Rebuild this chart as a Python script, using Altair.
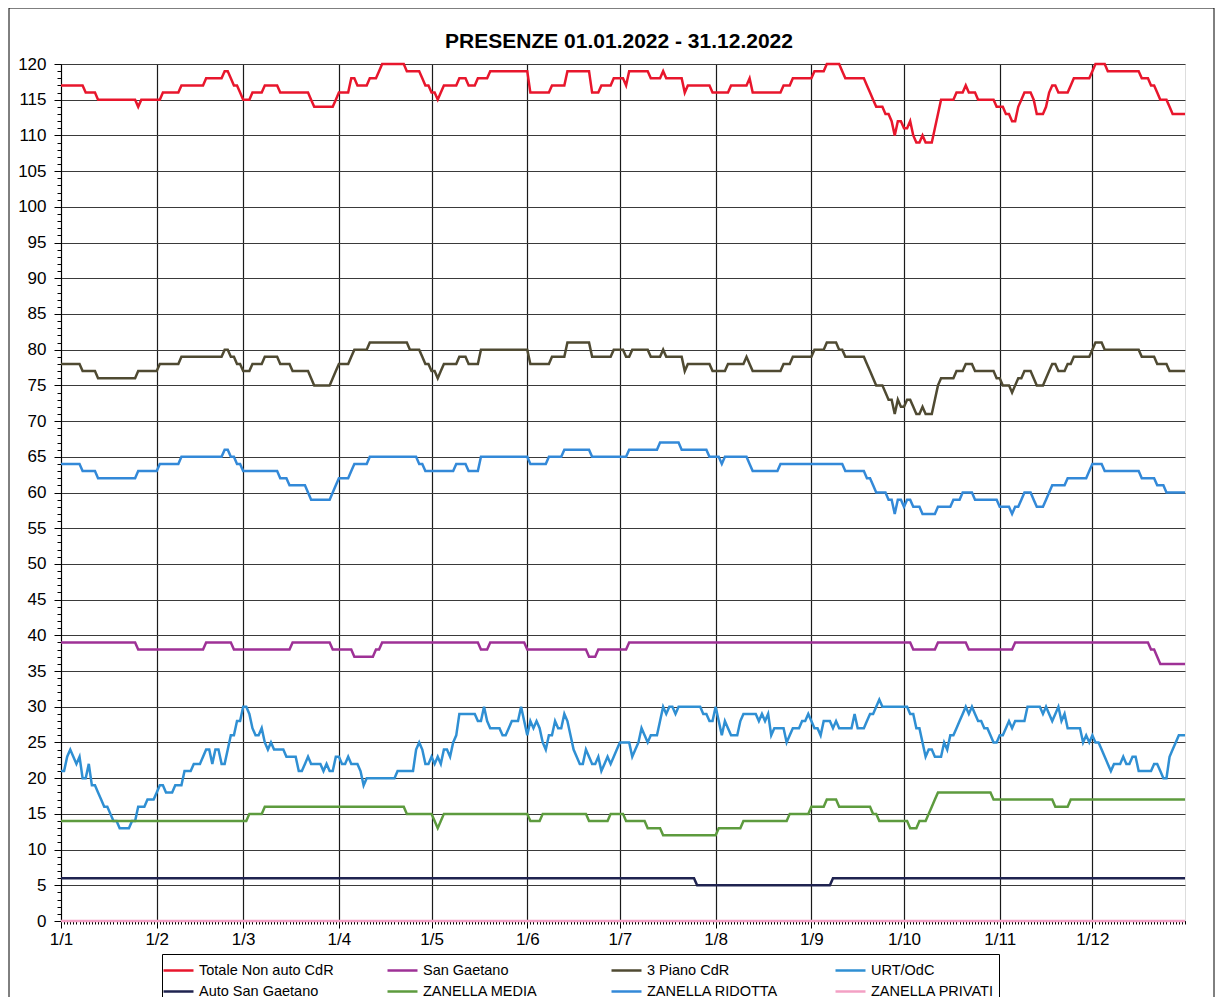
import altair as alt
import pandas as pd

# ---------------- data ----------------
N_DAYS = 365
MONTH_START = [0, 31, 59, 90, 120, 151, 181, 212, 243, 273, 304, 334]
MONTH_LABELS = ["1/1", "1/2", "1/3", "1/4", "1/5", "1/6", "1/7", "1/8", "1/9", "1/10", "1/11", "1/12"]
Y_MAX = 120
TITLE = "PRESENZE 01.01.2022 - 31.12.2022"

SERIES = ["Totale Non auto CdR", "San Gaetano", "3 Piano CdR", "URT/OdC",
          "Auto San Gaetano", "ZANELLA MEDIA", "ZANELLA RIDOTTA", "ZANELLA PRIVATI"]
COLORS = ["#e8162c", "#9e3196", "#4f4a32", "#2f8fd3",
          "#1f2350", "#5d9b3e", "#3389d8", "#f3a0c4"]

# (day of year starting at 0, value from that day on)
TOTALE = [(0, 117), (8, 116), (12, 115), (25, 114), (26, 115), (33, 116), (39, 117), (47, 118),
          (53, 119), (55, 118), (56, 117), (58, 116), (59, 115), (62, 116), (66, 117), (71, 116),
          (81, 115), (82, 114), (89, 115), (90, 116), (94, 118), (96, 117), (100, 118), (103, 119),
          (104, 120), (112, 119), (117, 118), (118, 117), (120, 116), (122, 115), (123, 116),
          (124, 117), (129, 118), (132, 117), (135, 118), (139, 119), (152, 116), (159, 117),
          (164, 119), (172, 116), (175, 117), (179, 118), (183, 117), (184, 119), (191, 118),
          (195, 119), (196, 118), (202, 116), (203, 117), (211, 116), (217, 117), (223, 118),
          (224, 116), (234, 117), (237, 118), (244, 119), (248, 120), (253, 119), (254, 118),
          (261, 117), (262, 116), (263, 115), (264, 114), (267, 113), (269, 112), (270, 110),
          (271, 112), (273, 111), (275, 112), (276, 110), (277, 109), (279, 110), (280, 109),
          (283, 111), (284, 113), (285, 115), (290, 116), (293, 117), (294, 116), (297, 115),
          (303, 114), (306, 113), (308, 112), (310, 114), (311, 115), (312, 116), (315, 115),
          (316, 113), (319, 114), (320, 116), (321, 117), (323, 116), (327, 117), (328, 118),
          (334, 119), (335, 120), (339, 119), (350, 118), (353, 117), (355, 116), (356, 115),
          (359, 114), (360, 113)]

SAN_GAETANO = [(0, 39), (25, 38), (47, 39), (56, 38), (75, 39), (88, 38), (95, 37), (102, 38),
               (104, 39), (136, 38), (139, 39), (151, 38), (171, 37), (174, 38), (184, 39),
               (276, 38), (284, 39), (294, 38), (309, 39), (353, 38), (355, 37), (356, 36)]

PIANO_3 = [(0, 78), (7, 77), (12, 76), (25, 77), (32, 78), (39, 79), (53, 80), (55, 79), (57, 78),
           (59, 77), (62, 78), (66, 79), (71, 78), (75, 77), (81, 76), (82, 75), (88, 76), (89, 77),
           (90, 78), (94, 79), (95, 80), (100, 81), (113, 80), (117, 79), (118, 78), (120, 77),
           (122, 76), (123, 77), (124, 78), (129, 79), (132, 78), (136, 80), (152, 78), (159, 79),
           (164, 81), (172, 79), (179, 80), (183, 79), (185, 80), (191, 79), (195, 80), (196, 79),
           (202, 77), (203, 78), (211, 77), (216, 78), (222, 79), (223, 78), (224, 77), (234, 78),
           (237, 79), (244, 80), (248, 81), (252, 80), (254, 79), (261, 78), (262, 77), (263, 76),
           (264, 75), (267, 74), (268, 73), (270, 71), (271, 73), (272, 72), (274, 73), (276, 72),
           (277, 71), (279, 72), (280, 71), (283, 73), (284, 75), (285, 76), (290, 77), (293, 78),
           (296, 77), (303, 76), (305, 75), (308, 74), (309, 75), (310, 76), (312, 77), (315, 76),
           (316, 75), (319, 76), (320, 77), (321, 78), (323, 77), (326, 78), (328, 79), (334, 80),
           (335, 81), (338, 80), (350, 79), (355, 78), (359, 77)]

URT_ODC = [(0, 21), (2, 23), (3, 24), (4, 23), (5, 22), (6, 23), (7, 20), (9, 22), (10, 19),
           (12, 18), (13, 17), (14, 16), (16, 15), (17, 14), (19, 13), (23, 14), (25, 16), (28, 17),
           (31, 18), (32, 19), (34, 18), (37, 19), (40, 21), (43, 22), (46, 23), (47, 24), (49, 22),
           (50, 24), (52, 22), (54, 24), (55, 26), (57, 28), (59, 30), (61, 29), (62, 27), (63, 26),
           (65, 27), (66, 25), (67, 24), (68, 25), (69, 24), (73, 23), (77, 21), (79, 22), (80, 23),
           (81, 22), (85, 21), (86, 22), (87, 21), (89, 23), (91, 22), (93, 23), (94, 22), (97, 21),
           (98, 19), (99, 20), (109, 21), (115, 24), (116, 25), (117, 24), (118, 22), (120, 23),
           (121, 22), (122, 23), (123, 22), (124, 24), (126, 23), (127, 25), (128, 26), (129, 29),
           (135, 28), (137, 30), (138, 28), (139, 27), (143, 26), (145, 27), (146, 28), (149, 30),
           (150, 28), (151, 26), (152, 28), (153, 27), (154, 28), (155, 27), (156, 25), (157, 24),
           (158, 26), (160, 28), (161, 27), (163, 29), (164, 28), (165, 26), (166, 24), (167, 23),
           (168, 22), (170, 24), (171, 23), (172, 22), (174, 23), (175, 21), (176, 22), (177, 23),
           (178, 22), (179, 23), (180, 24), (181, 25), (185, 23), (186, 24), (187, 25), (188, 27),
           (189, 26), (190, 25), (191, 26), (194, 28), (195, 30), (196, 29), (197, 30), (199, 29),
           (200, 30), (208, 29), (210, 28), (212, 30), (213, 28), (214, 26), (215, 28), (216, 27),
           (217, 26), (220, 28), (221, 29), (226, 28), (227, 29), (228, 28), (229, 29), (230, 26),
           (231, 27), (235, 25), (236, 26), (237, 27), (240, 28), (242, 29), (243, 28), (244, 27),
           (246, 26), (247, 28), (250, 27), (251, 28), (252, 27), (257, 29), (258, 27), (261, 28),
           (262, 29), (264, 30), (265, 31), (266, 30), (275, 29), (277, 27), (279, 25), (280, 23),
           (281, 24), (283, 23), (286, 25), (287, 24), (288, 26), (290, 27), (291, 28), (292, 29),
           (293, 30), (294, 29), (295, 30), (296, 29), (297, 28), (299, 27), (301, 26), (302, 25),
           (304, 26), (306, 27), (307, 28), (308, 27), (309, 28), (313, 30), (318, 29), (319, 30),
           (320, 29), (321, 28), (322, 29), (323, 30), (324, 28), (325, 29), (326, 27), (331, 25),
           (332, 26), (333, 25), (334, 26), (335, 25), (337, 24), (338, 23), (339, 22), (340, 21),
           (341, 22), (344, 23), (345, 22), (347, 23), (349, 21), (354, 22), (356, 21), (357, 20),
           (359, 23), (360, 24), (361, 25), (362, 26)]

AUTO_SAN_GAETANO = [(0, 6), (206, 5), (250, 6)]

ZANELLA_MEDIA = [(0, 14), (61, 15), (66, 16), (112, 15), (121, 14), (122, 13), (123, 14), (124, 15),
                 (152, 14), (156, 15), (171, 14), (178, 15), (183, 14), (190, 13), (195, 12),
                 (213, 13), (221, 14), (236, 15), (243, 16), (248, 17), (252, 16), (263, 15),
                 (265, 14), (275, 13), (278, 14), (281, 15), (282, 16), (283, 17), (284, 18),
                 (302, 17), (322, 16), (327, 17)]

ZANELLA_RIDOTTA = [(0, 64), (7, 63), (12, 62), (25, 63), (32, 64), (39, 65), (53, 66), (55, 65),
                   (57, 64), (59, 63), (71, 62), (74, 61), (80, 60), (81, 59), (88, 60), (89, 61),
                   (90, 62), (94, 63), (95, 64), (100, 65), (116, 64), (118, 63), (128, 64),
                   (132, 63), (136, 65), (152, 64), (158, 65), (163, 66), (172, 65), (184, 66),
                   (194, 67), (201, 66), (210, 65), (214, 64), (215, 65), (223, 64), (224, 63),
                   (233, 64), (254, 63), (261, 62), (263, 61), (264, 60), (268, 59), (270, 57),
                   (271, 59), (273, 58), (274, 59), (276, 58), (279, 57), (284, 58), (289, 59),
                   (292, 60), (296, 59), (304, 58), (308, 57), (309, 58), (311, 59), (312, 60),
                   (315, 59), (316, 58), (319, 59), (320, 60), (321, 61), (326, 62), (333, 63),
                   (334, 64), (338, 63), (350, 62), (355, 61), (358, 60)]

ZANELLA_PRIVATI = [(0, 0)]

READINGS = [TOTALE, SAN_GAETANO, PIANO_3, URT_ODC, AUTO_SAN_GAETANO,
            ZANELLA_MEDIA, ZANELLA_RIDOTTA, ZANELLA_PRIVATI]


def daily(readings):
    """Each reading holds from its day until the next reading."""
    out = []
    j = 0
    for d in range(N_DAYS):
        while j + 1 < len(readings) and readings[j + 1][0] <= d:
            j += 1
        out.append(readings[j][1])
    return out


rows = []
for order, (name, readings) in enumerate(zip(SERIES, READINGS)):
    for d, v in enumerate(daily(readings)):
        rows.append({"day": d, "value": v, "serie": name, "ord": order})
df = pd.DataFrame(rows)

# ---------------- chart ----------------
W, H = 1124, 857
FONT = "Liberation Sans"

month_arr = "[" + ",".join(str(m) for m in MONTH_START) + "]"
lab_arr = "[" + ",".join("'" + s + "'" for s in MONTH_LABELS) + "]"
is_month = f"indexof({month_arr}, datum.value) >= 0"

x_axis = alt.Axis(
    values=list(range(N_DAYS)),
    labelExpr=f"{is_month} ? {lab_arr}[indexof({month_arr}, datum.value)] : ''",
    labelOverlap=False,
    labelFlush=False,
    labelFont=FONT,
    labelFontSize=17,
    labelColor="black",
    labelPadding=3,
    title=None,
    domainColor="black",
    tickColor="black",
    tickSize={"condition": {"test": is_month, "value": 7}, "value": 3},
    tickWidth=1,
    grid=True,
    gridColor="#1a1a1a",
    gridWidth=1.2,
    gridOpacity={"condition": {"test": is_month, "value": 1}, "value": 0},
)

is_five = "datum.value % 5 === 0"
y_axis = alt.Axis(
    values=list(range(0, Y_MAX + 1)),
    labelExpr=f"{is_five} ? datum.label : ''",
    labelOverlap=False,
    labelFlush=False,
    labelFont=FONT,
    labelFontSize=17,
    labelColor="black",
    labelPadding=8,
    title=None,
    domainColor="black",
    tickColor="black",
    tickSize={"condition": {"test": is_five, "value": 7}, "value": 4},
    tickWidth=1,
    grid=True,
    gridColor="#3a3a3a",
    gridWidth=1.1,
    gridOpacity={"condition": {"test": is_five, "value": 1}, "value": 0},
)

lines = alt.Chart(df).mark_line(strokeWidth=2.5, strokeJoin="miter").encode(
    x=alt.X("day:Q", scale=alt.Scale(domain=[0, N_DAYS - 1], nice=False, zero=False), axis=x_axis),
    y=alt.Y("value:Q", scale=alt.Scale(domain=[0, Y_MAX], nice=False), axis=y_axis),
    color=alt.Color(
        "serie:N",
        scale=alt.Scale(domain=SERIES, range=COLORS),
        sort=SERIES,
        legend=alt.Legend(
            title=None,
            orient="none",
            direction="horizontal",
            legendX=101,
            legendY=890,
            columns=4,
            gridAlign="all",
            columnPadding=48,
            rowPadding=3,
            padding=5,
            symbolType="M-1.5,0H1.5",
            symbolSize=400,
            symbolStrokeWidth=2.5,
            labelFont=FONT,
            labelFontSize=14.5,
            labelColor="black",
            labelOffset=9,
            labelLimit=300,
            strokeColor="black",
            fillColor="white",
        ),
    ),
    order=alt.Order("ord:Q"),
    detail="serie:N",
)

frame = alt.Chart(alt.Data(values=[{"f": 1}])).mark_rect(
    fill="transparent", stroke="black", strokeWidth=1
).encode(
    x=alt.value(-52), x2=alt.value(W + 29), y=alt.value(-56), y2=alt.value(H + 120)
)

title = alt.Chart(alt.Data(values=[{"t": TITLE}])).mark_text(
    font=FONT, fontSize=21, fontWeight="bold", color="black",
    align="center", baseline="alphabetic"
).encode(
    x=alt.value(W / 2 - 4), y=alt.value(-16), text="t:N"
)

chart = alt.layer(frame, lines, title).properties(
    width=W,
    height=H,
    autosize=alt.AutoSizeParams(type="none"),
    padding={"left": 53, "top": 56, "right": 30, "bottom": 76},
).configure_view(
    fill="#edf4fb", stroke="black", strokeWidth=1.2
).configure(background="white")

chart.save("out.html", embed_options={"renderer": "svg", "actions": False})
